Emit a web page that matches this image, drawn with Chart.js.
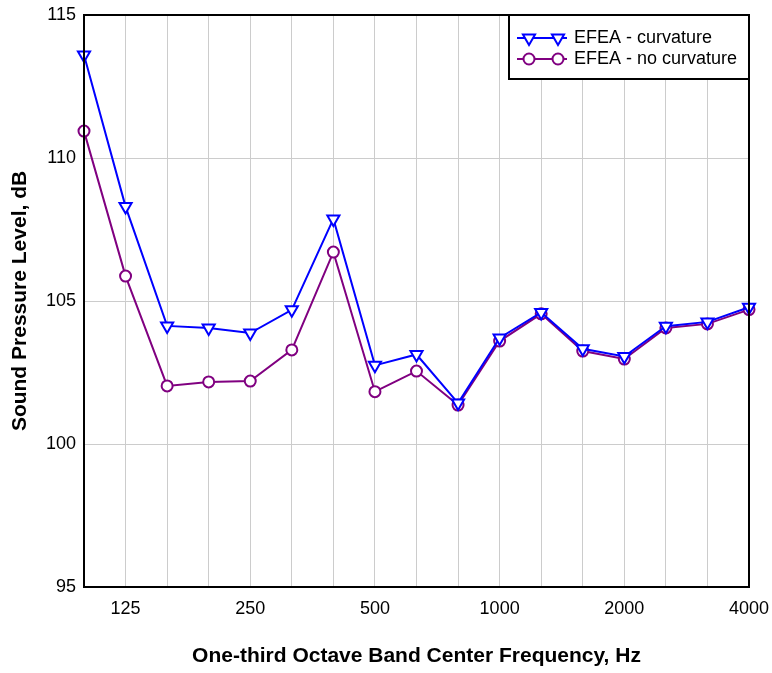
<!DOCTYPE html>
<html>
<head>
<meta charset="utf-8">
<script src="https://cdn.jsdelivr.net/npm/chart.js@4/dist/chart.umd.min.js"></script>
<style>
  html, body { margin: 0; padding: 0; background: #ffffff; }
  #wrap { width: 772px; height: 673px; position: relative; }
</style>
</head>
<body>
<div id="wrap"><canvas id="spl"></canvas></div>
<script>
// One-third octave band centre frequencies (Hz)
const bands = ['100', '125', '160', '200', '250', '315', '400', '500', '630', '800',
               '1000', '1250', '1600', '2000', '2500', '3150', '4000'];
// Bands that carry a tick label
const labelledBands = ['125', '250', '500', '1000', '2000', '4000'];

// Sound pressure level (dB) per band
const splCurvature = [113.6, 108.3, 104.13, 104.06, 103.88, 104.69, 107.87, 102.75, 103.13, 101.43,
                      103.71, 104.6, 103.33, 103.06, 104.12, 104.27, 104.78];
const splNoCurvature = [110.94, 105.87, 102.03, 102.17, 102.2, 103.29, 106.71, 101.83, 102.55, 101.36,
                        103.6, 104.55, 103.25, 102.97, 104.06, 104.2, 104.7];

// Value axis ticks
const yMin = 95, yMax = 115, yStep = 5;

const FONT = "'Liberation Sans', Arial, sans-serif";

// Frame the plot area on all four sides
const framePlugin = {
  id: 'frame',
  afterDatasetsDraw(chart) {
    const { ctx, chartArea: a } = chart;
    ctx.save();
    ctx.strokeStyle = '#000000';
    ctx.lineWidth = 2;
    ctx.strokeRect(a.left, a.top, a.right - a.left, a.bottom - a.top);
    ctx.restore();
  }
};

// Boxed legend in the upper right corner of the plot
const cornerLegend = {
  id: 'cornerLegend',
  afterDraw(chart) {
    const { ctx, chartArea: a } = chart;
    const boxW = 240, boxH = 64;
    const x0 = a.right - boxW, y0 = a.top;
    ctx.save();
    ctx.fillStyle = '#ffffff';
    ctx.fillRect(x0, y0, boxW, boxH);
    ctx.strokeStyle = '#000000';
    ctx.lineWidth = 2;
    ctx.strokeRect(x0, y0, boxW, boxH);
    chart.data.datasets.forEach((ds, i) => {
      const cy = y0 + 23 + i * 21;
      const lx0 = x0 + 8, lx1 = x0 + 58;
      ctx.strokeStyle = ds.borderColor;
      ctx.lineWidth = ds.borderWidth;
      ctx.beginPath();
      ctx.moveTo(lx0, cy);
      ctx.lineTo(lx1, cy);
      ctx.stroke();
      [x0 + 20, x0 + 49].forEach(px => {
        ctx.fillStyle = '#ffffff';
        ctx.strokeStyle = ds.borderColor;
        ctx.lineWidth = ds.pointBorderWidth;
        Chart.helpers.drawPoint(ctx, {
          pointStyle: ds.pointStyle,
          rotation: ds.pointRotation || 0,
          radius: ds.pointRadius,
          borderWidth: ds.pointBorderWidth
        }, px, cy);
      });
      ctx.fillStyle = '#000000';
      ctx.font = '18px ' + FONT;
      ctx.textBaseline = 'middle';
      ctx.textAlign = 'left';
      ctx.fillText(ds.label, x0 + 65, cy);
    });
    ctx.restore();
  }
};

new Chart(document.getElementById('spl'), {
  type: 'line',
  data: {
    labels: bands,
    datasets: [
      {
        label: 'EFEA - curvature',
        data: splCurvature,
        borderColor: '#0000ff',
        backgroundColor: '#ffffff',
        borderWidth: 2,
        pointStyle: 'triangle',
        pointRotation: 180,
        pointRadius: 7,
        pointBorderWidth: 2,
        pointBackgroundColor: '#ffffff',
        pointBorderColor: '#0000ff',
        tension: 0,
        clip: false
      },
      {
        label: 'EFEA - no curvature',
        data: splNoCurvature,
        borderColor: '#800080',
        backgroundColor: '#ffffff',
        borderWidth: 2,
        pointStyle: 'circle',
        pointRadius: 5.5,
        pointBorderWidth: 2,
        pointBackgroundColor: '#ffffff',
        pointBorderColor: '#800080',
        tension: 0,
        clip: false
      }
    ]
  },
  options: {
    responsive: true,
    maintainAspectRatio: false,
    animation: false,
    devicePixelRatio: 1,
    layout: { padding: { top: 15, right: 23, left: 0, bottom: 0 } },
    plugins: {
      legend: { display: false },
      tooltip: { enabled: false }
    },
    scales: {
      x: {
        type: 'category',
        offset: false,
        afterFit(scale) {
          scale.height = 86;
          scale.paddingLeft = 0;
          scale.paddingRight = 0;
        },
        grid: { color: '#cccccc', lineWidth: 1, drawTicks: false },
        border: { color: '#000000', width: 2 },
        ticks: {
          autoSkip: false,
          maxRotation: 0,
          padding: 11,
          color: '#000000',
          font: { family: FONT, size: 18 },
          callback(value) {
            const lab = this.getLabelForValue(value);
            return labelledBands.includes(lab) ? lab : '';
          }
        },
        title: {
          display: true,
          text: 'One-third Octave Band Center Frequency, Hz',
          color: '#000000',
          font: { family: FONT, size: 21, weight: 'bold' },
          padding: { top: 0, bottom: 4 }
        }
      },
      y: {
        min: yMin,
        max: yMax,
        afterFit(scale) {
          scale.width = 84;
          scale.paddingTop = 0;
          scale.paddingBottom = 0;
        },
        grid: { color: '#cccccc', lineWidth: 1, drawTicks: false },
        border: { color: '#000000', width: 2 },
        ticks: {
          stepSize: yStep,
          padding: 8,
          color: '#000000',
          font: { family: FONT, size: 18 }
        },
        title: {
          display: true,
          text: 'Sound Pressure Level, dB',
          color: '#000000',
          font: { family: FONT, size: 21, weight: 'bold' },
          padding: { top: 8, bottom: 0 }
        }
      }
    }
  },
  plugins: [framePlugin, cornerLegend]
});
</script>
</body>
</html>
